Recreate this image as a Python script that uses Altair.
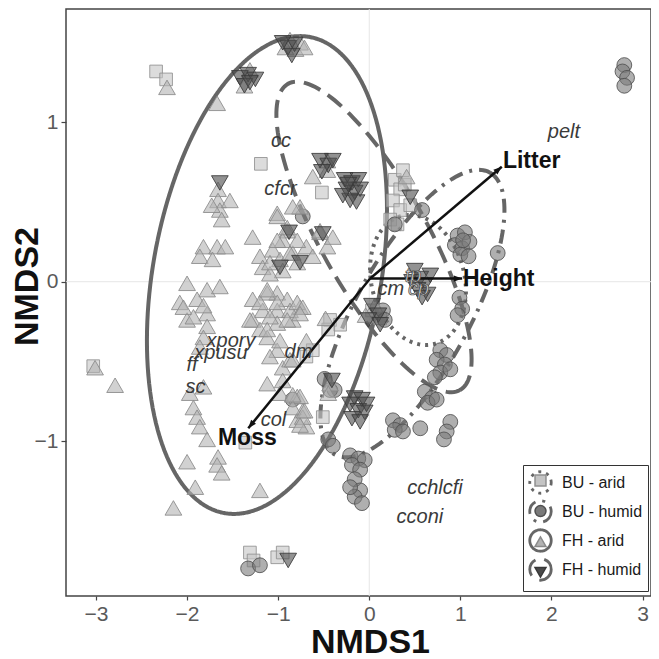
import math
import altair as alt
import numpy as np
import pandas as pd

# ---------------- axes / layout ----------------
X_DOMAIN = [-3.329, 3.093]
Y_DOMAIN = [-1.973, 1.712]
W, H = 585, 587
FONT = "Liberation Sans"

# ---------------- site scores (NMDS1, NMDS2) ----------------
BU_ARID = [(-2.34, 1.32), (-2.23, 1.27), (-1.19, 0.74), (-0.52, 0.56),
           (0.28, 0.64), (0.34, 0.58), (0.39, 0.61), (0.26, 0.51), (0.34, 0.45), (0.45, 0.48),
           (0.23, 0.39), (0.31, 0.36), (0.37, 0.70),
           (-0.43, -0.24), (-0.32, -0.27), (-0.45, -0.30),
           (-0.51, -0.85), (-0.69, -0.47), (-0.62, -0.43),
           (-1.31, -1.70), (-1.27, -1.75), (-1.01, -1.73), (-0.95, -1.70),
           (0.03, -0.18), (0.12, -0.23), (-1.36, -1.01), (-3.03, -0.53)]

BU_HUMID = [(2.80, 1.36), (2.78, 1.32), (2.83, 1.28), (2.80, 1.23),
            (0.97, 0.29), (1.05, 0.31), (0.94, 0.23), (1.02, 0.21), (1.10, 0.25), (1.00, 0.17),
            (1.09, 0.16), (1.03, 0.26),
            (1.41, 0.18), (0.58, 0.45), (0.28, 0.36), (-0.73, 0.41),
            (0.99, -0.10), (1.02, -0.17), (0.97, -0.21),
            (0.78, -0.43), (0.85, -0.46), (0.74, -0.49), (0.83, -0.52), (0.78, -0.57), (0.89, -0.55),
            (0.72, -0.60),
            (0.61, -0.69), (0.69, -0.73), (0.64, -0.76), (0.74, -0.74),
            (0.56, -0.92),
            (0.26, -0.87), (0.34, -0.90), (0.28, -0.93), (0.37, -0.94),
            (0.89, -0.88), (0.85, -0.94), (0.82, -0.99),
            (-0.21, -1.09), (-0.12, -1.11), (-0.05, -1.12), (-0.19, -1.15), (-0.10, -1.18),
            (-0.16, -1.24), (-0.10, -1.31), (-0.16, -1.35), (-0.08, -1.39), (-0.21, -1.29),
            (-0.49, -0.61), (-0.43, -0.68), (-0.45, -0.99), (-0.40, -1.03), (-0.38, -0.68),
            (-1.33, -1.80), (-1.20, -1.78),
            (-0.84, -0.74), (0.15, -0.18), (0.17, -0.24)]

FH_ARID = [(-2.22, 1.22), (-1.67, 1.12), (-0.76, 1.50), (-0.87, 1.52), (-0.81, 1.46), (-0.92, 1.47),
           (-0.71, 1.47), (-1.31, 1.33), (-1.37, 1.23),
           (-1.66, 0.58), (-1.66, 0.51), (-1.64, 0.45), (-1.62, 0.39), (-1.53, 0.51), (-1.73, 0.48),
           (-1.82, 0.22), (-1.67, 0.22), (-1.86, 0.16), (-1.72, 0.14), (-1.58, 0.22),
           (-1.28, 0.28),
           (-1.20, 0.16), (-1.17, 0.09), (-1.01, 0.43), (-0.90, 0.32), (-0.95, 0.26), (-1.06, 0.20),
           (-0.98, 0.14), (-0.84, 0.18), (-0.76, 0.47), (-0.62, 0.66), (-1.01, -0.07), (-0.95, 0.07),
           (-1.09, 0.05),
           (-2.00, -0.01), (-1.78, -0.05), (-1.64, -0.03), (-2.08, -0.13), (-1.89, -0.11), (-1.78, -0.20),
           (-2.00, -0.24),
           (-1.28, -0.11), (-1.12, -0.07), (-1.17, -0.18), (-1.01, -0.18), (-0.90, -0.11), (-1.28, -0.24),
           (-0.76, -0.16), (-0.84, -0.24),
           (-0.69, 0.22), (-0.62, 0.16), (-0.54, 0.31),
           (-2.04, -0.16), (-1.82, -0.15), (-1.93, -0.22), (-1.78, -0.28), (-1.82, -0.35), (-1.86, -0.41),
           (-1.31, -0.24), (-1.20, -0.30), (-1.12, -0.35), (-1.01, -0.26), (-1.20, -0.13), (-1.01, -0.13),
           (-0.87, -0.18), (-0.79, -0.13),
           (-1.01, -0.43), (-0.95, -0.54), (-0.87, -0.49), (-1.12, -0.64), (-0.95, -0.62), (-0.98, -0.70),
           (-0.79, -0.72), (-0.73, -0.81), (-0.79, -0.87), (-0.69, -0.91),
           (-1.93, -0.79), (-1.89, -0.85), (-1.86, -0.91), (-1.78, -0.99), (-1.82, -0.66), (-1.97, -0.70),
           (-3.01, -0.54), (-2.79, -0.65), (-2.00, -1.13), (-1.66, -1.10), (-1.67, -1.15), (-1.62, -1.20),
           (-1.91, -1.29), (-2.15, -1.42), (-1.20, -1.31),
           (-1.09, 0.12), (-0.79, 0.12), (-1.12, -0.05), (-0.73, -0.16), (-1.09, -0.22), (-0.90, -0.24),
           (-0.76, -0.20), (-1.12, -0.30), (-0.98, -0.37), (-0.69, -0.37), (-1.09, -0.47), (-0.84, -0.49),
           (-0.76, -0.72), (-0.73, -0.85), (-0.84, -0.79),
           (-0.46, 0.76), (-0.46, 0.70),
           (-1.01, 0.41), (-0.84, 0.47), (-0.90, 0.34), (-1.01, 0.26), (-0.79, 0.26), (-0.87, 0.18),
           (-0.54, 0.32), (-0.46, 0.22), (-0.40, 0.28),
           (0.41, 0.66), (0.06, -0.15), (-0.04, -0.21), (-0.48, -0.23),
           (-0.84, -0.71), (-0.71, -0.81), (-0.76, -0.90), (-0.43, -0.64), (-0.45, -0.70)]

FH_HUMID = [(-0.89, 1.47), (-0.82, 1.49), (-0.85, 1.42), (-0.95, 1.50),
            (-1.42, 1.28), (-1.33, 1.30), (-1.25, 1.27), (-1.37, 1.23), (-1.31, 1.25),
            (-0.54, 0.76), (-0.45, 0.73), (-0.52, 0.69), (-0.40, 0.76),
            (-0.27, 0.64), (-0.19, 0.62), (-0.12, 0.64), (-0.25, 0.58), (-0.16, 0.56), (-0.21, 0.51),
            (-0.29, 0.54), (-0.10, 0.58), (-0.14, 0.50), (-0.23, 0.61),
            (-1.64, 0.62),
            (-0.76, 0.12), (-0.98, 0.09), (-0.88, 0.31), (-0.51, 0.30),
            (0.50, 0.07), (0.56, 0.02), (0.61, -0.02), (0.53, -0.05), (0.64, -0.08), (0.47, 0.00),
            (0.67, 0.04), (0.58, -0.10),
            (0.03, -0.15), (0.10, -0.21), (-0.01, -0.24), (0.12, -0.27),
            (-0.16, -0.73), (-0.08, -0.74), (-0.21, -0.77), (-0.12, -0.81), (-0.05, -0.82), (-0.19, -0.86),
            (-0.10, -0.88), (-0.03, -0.77),
            (-0.89, -1.75), (-0.41, -0.62), (0.45, 0.53)]

GROUP_CODES = ["BUa", "BUh", "FHa", "FHh"]
GROUP_SHAPES = ["square", "circle", "triangle-up", "triangle-down"]
GROUP_FILLS = ["#c4c4c4", "#7a7a7a", "#b2b2b2", "#4a4a4a"]
GROUP_STROKES = ["#909090", "#505050", "#8a8a8a", "#383838"]
GROUP_SIZES = [160, 220, 280, 280]

# ---------------- confidence ellipses ----------------
ELL_NAMES = ["BU - arid", "BU - humid", "FH - arid", "FH - humid"]
ELL_DASH = [[3, 5], [14, 7, 3, 7], [1, 0], [18, 9]]
ELL_CX = [0.535, 0.474, -1.123, 0.052]
ELL_CY = [0.011, -0.200, 0.042, 0.281]
ELL_XCOS = [-0.088, 0.848, 0.362, 0.944]
ELL_XSIN = [0.519, 0.549, 1.267, 0.507]
ELL_YCOS = [0.408, 0.886, 1.500, -0.961]
ELL_YSIN = [0.0, -0.172, 0.0, 0.163]

# ---------------- environmental vectors ----------------
ARROW_NAMES = ["Litter", "Height", "Moss"]
ARROW_X0 = 0.01
ARROW_Y0 = 0.02
ARROW_XEND = [1.455, 1.02, -1.328]
ARROW_YEND = [0.722, 0.02, -0.92]
ARROW_LABEL_X = [1.467, 1.028, -1.661]
ARROW_LABEL_Y = [0.758, 0.017, -0.978]

# ---------------- species ----------------
SPECIES = ["cc", "cfcr", "pelt", "cm", "xpory", "xpusu", "ff", "sc", "dm", "col", "cchlcfi", "cconi"]
SPECIES_X = [-0.968, -0.975, 2.137, 0.238, -1.518, -1.628, -1.946, -1.908, -0.777, -1.052, 0.721, 0.556]
SPECIES_Y = [0.883, 0.585, 0.94, -0.046, -0.375, -0.45, -0.523, -0.664, -0.444, -0.871, -1.298, -1.48]
SPECIES_HIDDEN = ["tp", "cp"]
SPECIES_HIDDEN_X = [0.48, 0.54]
SPECIES_HIDDEN_Y = [0.036, -0.043]

# ---------------- build tables ----------------
group_tables = []
for code, pts in zip(GROUP_CODES, [BU_ARID, BU_HUMID, FH_ARID, FH_HUMID]):
    group_tables.append(pd.DataFrame({"x": [p[0] for p in pts], "y": [p[1] for p in pts],
                                      "grp": [code] * len(pts)}))

t = np.linspace(0, 2 * np.pi, 161)
erows = []
for i, name in enumerate(ELL_NAMES):
    for k, tt in enumerate(t):
        erows.append({
            "ell": name, "k": k,
            "x": ELL_CX[i] + ELL_XCOS[i] * math.cos(tt) + ELL_XSIN[i] * math.sin(tt),
            "y": ELL_CY[i] + ELL_YCOS[i] * math.cos(tt) + ELL_YSIN[i] * math.sin(tt),
        })
ellipses = pd.DataFrame(erows)

px_per_x = W / (X_DOMAIN[1] - X_DOMAIN[0])
px_per_y = H / (Y_DOMAIN[1] - Y_DOMAIN[0])
arrows = pd.DataFrame({
    "name": ARROW_NAMES,
    "x0": [ARROW_X0] * 3, "y0": [ARROW_Y0] * 3,
    "x1": ARROW_XEND, "y1": ARROW_YEND,
    "lx": ARROW_LABEL_X, "ly": ARROW_LABEL_Y,
})
arrows["ang"] = [
    (90 - math.degrees(math.atan2((y1 - ARROW_Y0) * px_per_y, (x1 - ARROW_X0) * px_per_x))) % 360
    for x1, y1 in zip(ARROW_XEND, ARROW_YEND)
]

species = pd.DataFrame({"sp": SPECIES, "x": SPECIES_X, "y": SPECIES_Y})
species_hidden = pd.DataFrame({"sp": SPECIES_HIDDEN, "x": SPECIES_HIDDEN_X, "y": SPECIES_HIDDEN_Y})
zero = pd.DataFrame({"v": [0]})

xs = alt.Scale(domain=X_DOMAIN, nice=False, zero=False)
ys = alt.Scale(domain=Y_DOMAIN, nice=False, zero=False)

X_AXIS = alt.Axis(
    values=[-3, -2, -1, 0, 1, 2, 3], title="NMDS1", grid=False, domain=False,
    tickSize=4, tickColor="#444444", tickWidth=1.2, labelPadding=3,
    labelFont=FONT, labelFontSize=21, labelColor="#5a5a5a",
    titleFont=FONT, titleFontSize=34, titleFontWeight="bold", titleColor="#111111",
    titleX=304, titleY=46, titleAlign="center", titleBaseline="middle",
)
Y_AXIS = alt.Axis(
    values=[-1, 0, 1], title="NMDS2", grid=False, domain=False,
    tickSize=5, tickColor="#444444", tickWidth=1.2, labelPadding=3,
    labelFont=FONT, labelFontSize=21, labelColor="#5a5a5a",
    titleFont=FONT, titleFontSize=34, titleFontWeight="bold", titleColor="#111111",
    titleAngle=270, titleX=-39, titleY=277, titleAlign="center", titleBaseline="middle",
)


def X(field):
    return alt.X(field, scale=xs, axis=X_AXIS)


def Y(field):
    return alt.Y(field, scale=ys, axis=Y_AXIS)


# ---------------- layers ----------------
vline = alt.Chart(zero).mark_rule(color="#e6e6e6", strokeWidth=1).encode(x=X("v:Q"))
hline = alt.Chart(zero).mark_rule(color="#e6e6e6", strokeWidth=1).encode(y=Y("v:Q"))

ell_layer = alt.Chart(ellipses).mark_line(color="#666666", strokeWidth=4, strokeCap="butt").encode(
    x=X("x:Q"),
    y=Y("y:Q"),
    order="k:Q",
    strokeDash=alt.StrokeDash(
        "ell:N",
        scale=alt.Scale(domain=ELL_NAMES, range=ELL_DASH),
        legend=alt.Legend(
            title=None, orient="none", legendX=457, legendY=456, direction="vertical",
            padding=5, strokeColor="#333333", symbolType="circle", symbolSize=460,
            symbolStrokeWidth=2.8, symbolStrokeColor="#666666", symbolFillColor="rgba(0,0,0,0)",
            labelFont=FONT, labelFontSize=16, labelColor="#1a1a1a", labelOffset=9,
            rowPadding=-4, labelLimit=200,
        ),
    ),
)

PT_LEGEND = alt.Legend(title=None, orient="none", legendX=468, legendY=465,
                       direction="vertical", padding=0, symbolSize=120,
                       labelFontSize=1, labelOpacity=0, rowPadding=13.6, zindex=2)

point_layers = []
for code, size, tbl in zip(GROUP_CODES, GROUP_SIZES, group_tables):
    point_layers.append(
        alt.Chart(tbl).mark_point(
            filled=True, fillOpacity=0.6, strokeOpacity=0.85, strokeWidth=1, size=size
        ).encode(
            x=X("x:Q"),
            y=Y("y:Q"),
            shape=alt.Shape("grp:N", scale=alt.Scale(domain=GROUP_CODES, range=GROUP_SHAPES),
                            legend=PT_LEGEND),
            fill=alt.Fill("grp:N", scale=alt.Scale(domain=GROUP_CODES, range=GROUP_FILLS),
                          legend=PT_LEGEND),
            stroke=alt.Stroke("grp:N", scale=alt.Scale(domain=GROUP_CODES, range=GROUP_STROKES),
                              legend=PT_LEGEND),
        )
    )

arrow_lines = alt.Chart(arrows).mark_rule(color="#111111", strokeWidth=2.5).encode(
    x=X("x0:Q"), y=Y("y0:Q"), x2="x1:Q", y2="y1:Q")

arrow_heads = alt.Chart(arrows).mark_point(
    shape="M0,0L0.75,2L-0.75,2Z", filled=True, color="#111111", opacity=1, size=70
).encode(x=X("x1:Q"), y=Y("y1:Q"), angle=alt.Angle("ang:Q", scale=None))

arrow_text = alt.Chart(arrows).mark_text(
    font=FONT, fontSize=23, fontWeight="bold", color="#111111", align="left", baseline="middle"
).encode(x=X("lx:Q"), y=Y("ly:Q"), text="name:N")

species_text = alt.Chart(species).mark_text(
    font=FONT, fontSize=20, fontStyle="italic", color="#3a3a3a", align="center", baseline="middle"
).encode(x=X("x:Q"), y=Y("y:Q"), text="sp:N")

species_hidden_text = alt.Chart(species_hidden).mark_text(
    font=FONT, fontSize=20, fontStyle="italic", color="#d8d8d8", stroke="#444444", strokeWidth=0.7,
    align="center", baseline="middle"
).encode(x=X("x:Q"), y=Y("y:Q"), text="sp:N")

chart = alt.layer(
    vline, hline, ell_layer, *point_layers, arrow_lines, arrow_heads, arrow_text,
    species_text, species_hidden_text
).properties(
    width=W, height=H,
    autosize=alt.AutoSizeParams(type="none"),
    padding={"left": 58, "top": 1, "right": 0, "bottom": 62},
).configure(
    background="white"
).configure_view(
    stroke="#444444", strokeWidth=1.5
)

chart.save("out.html", embed_options={"renderer": "svg", "actions": False})
